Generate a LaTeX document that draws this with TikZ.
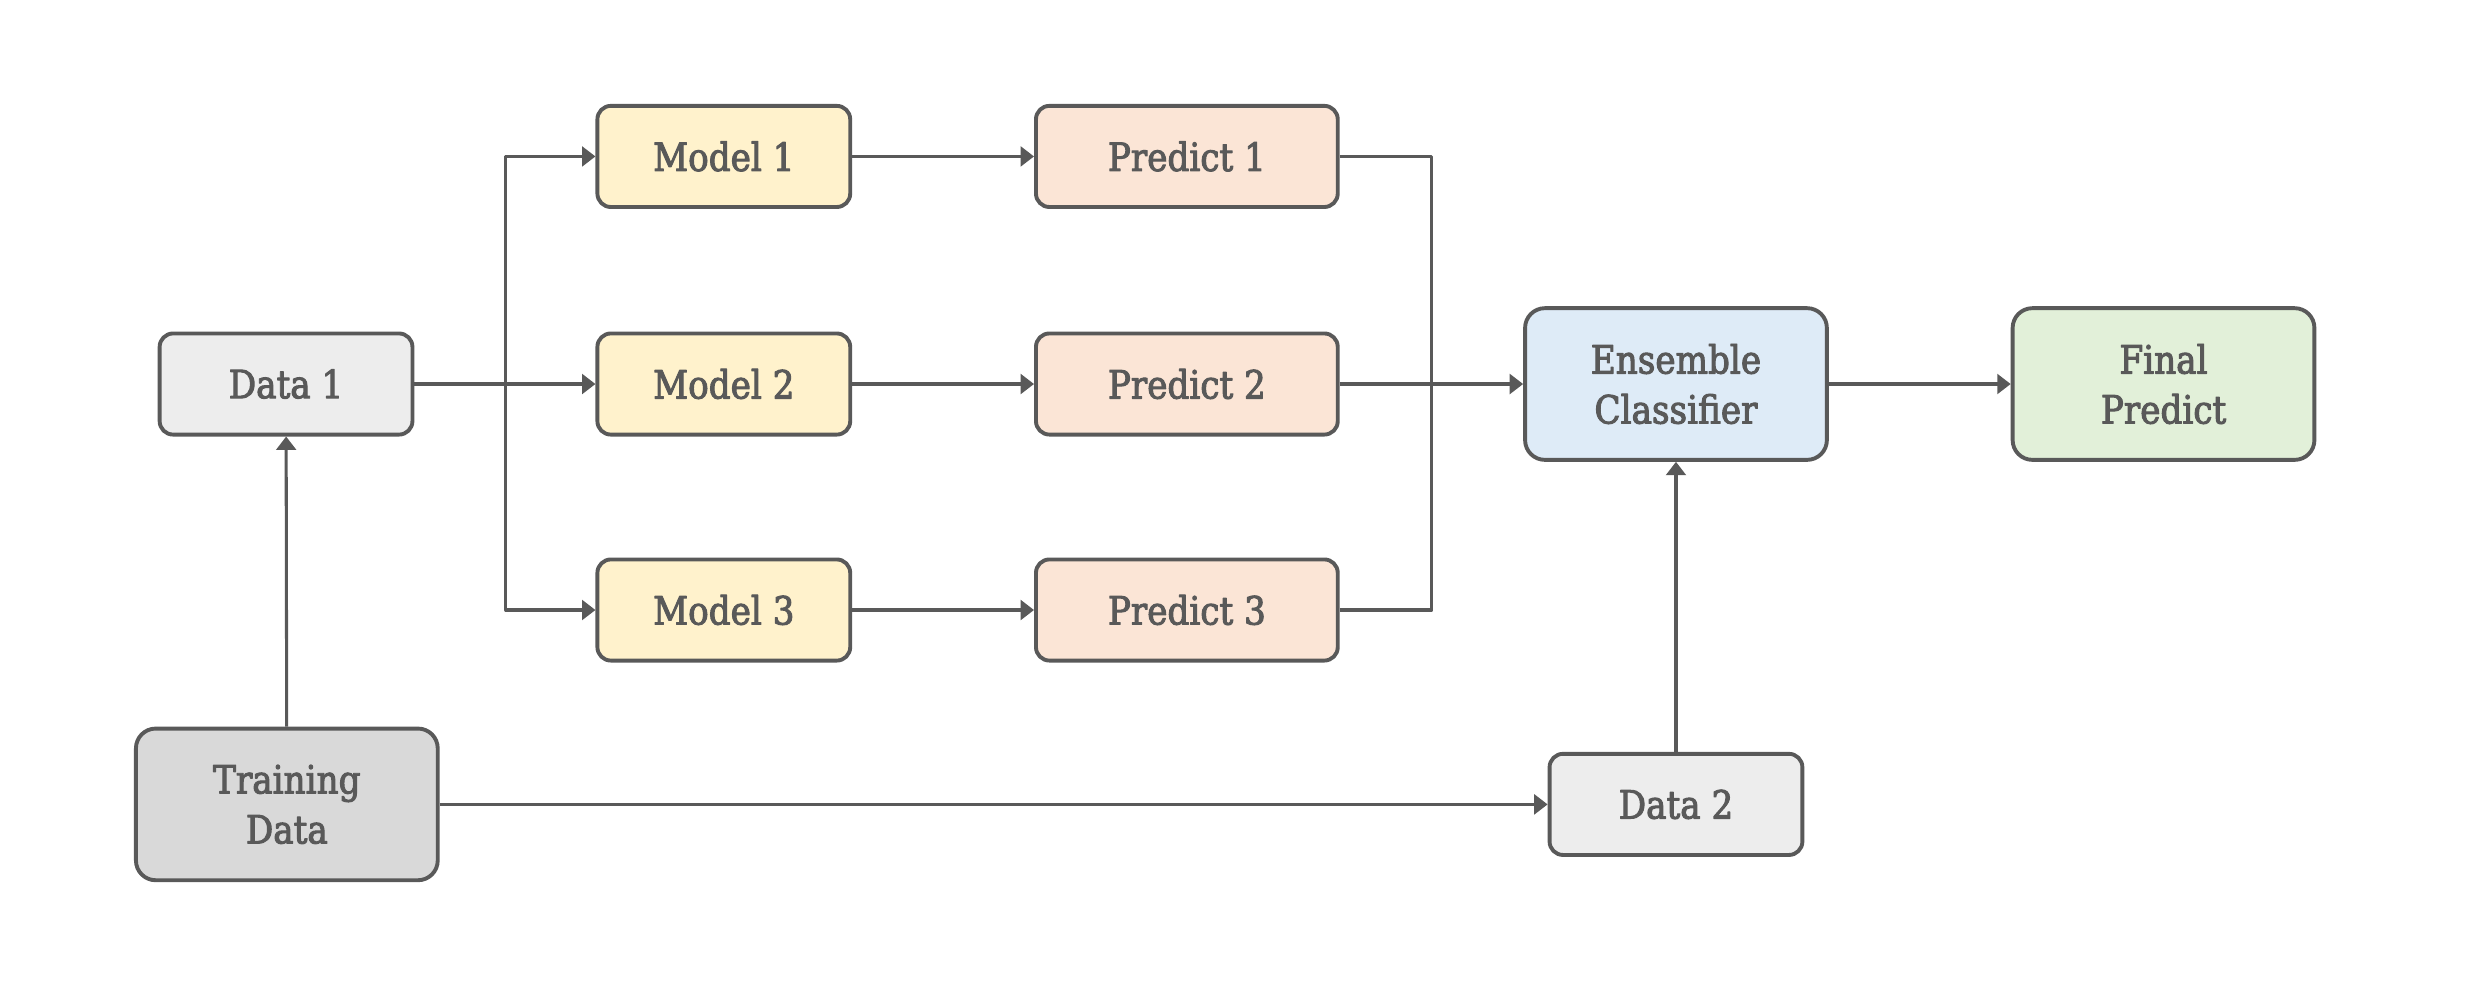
\documentclass[tikz,border=0pt]{standalone}
\usepackage{fontspec}
\setmainfont{DejaVu Serif}[FakeStretch=0.88,FakeBold=2.5]
\usepackage{tikz}
\usetikzlibrary{arrows.meta}

\definecolor{lineg}{HTML}{595959}
\definecolor{datag}{HTML}{EDEDED}
\definecolor{traing}{HTML}{D9D9D9}
\definecolor{modely}{HTML}{FFF2CC}
\definecolor{predo}{HTML}{FBE5D6}
\definecolor{ensb}{HTML}{DEEBF7}
\definecolor{finalg}{HTML}{E2F0D9}

\begin{document}
\begin{tikzpicture}[line cap=round,line join=round,x=0.02cm,y=-0.02cm,
  >={Triangle[length=0.17cm,width=0.25cm]},
  box/.style={draw=lineg,line width=1.4pt,rounded corners=0.17cm,text=lineg,
    font=\fontsize{14}{18}\selectfont,minimum width=3.2cm,minimum height=1.28cm,inner sep=0pt},
  bigbox/.style={box,rounded corners=0.25cm,minimum width=3.82cm,minimum height=1.92cm,align=center},
  conn/.style={draw=lineg,line width=1.1pt,line cap=butt}]
\useasboundingbox (0,0) rectangle (1568,624);
%\draw[help lines] (0,0) grid[step=100] (1568,624);

% boxes
\node[box,fill=datag] (data1) at (181,243) {Data 1};
\node[box,fill=modely] (model1) at (458,99) {Model 1};
\node[box,fill=modely] (model2) at (458,243) {Model 2};
\node[box,fill=modely] (model3) at (458,386) {Model 3};
\node[box,fill=predo,minimum width=3.82cm] (pred1) at (751,99) {Predict 1};
\node[box,fill=predo,minimum width=3.82cm] (pred2) at (751,243) {Predict 2};
\node[box,fill=predo,minimum width=3.82cm] (pred3) at (751,386) {Predict 3};
\node[bigbox,fill=ensb] (ens) at (1060.5,243) {Ensemble\\Classifier};
\node[bigbox,fill=finalg] (final) at (1369,243) {Final\\Predict};
\node[bigbox,fill=traing] (train) at (181.5,509) {Training\\Data};
\node[box,fill=datag] (data2) at (1060.5,509) {Data 2};

% split and merge points
\coordinate (split) at (320,243);
\coordinate (merge) at (906,243);

% connectors
\draw[conn,->] (data1) -- (model2);
\draw[conn,->] (split) |- (model1);
\draw[conn,->] (split) |- (model3);
\draw[conn,->] (model1) -- (pred1);
\draw[conn,->] (model2) -- (pred2);
\draw[conn,->] (model3) -- (pred3);
\draw[conn] (pred1) -| (merge);
\draw[conn] (pred3) -| (merge);
\draw[conn,->] (pred2) -- (ens);
\draw[conn,->] (ens) -- (final);
\draw[conn,->] (train) -- (data1);
\draw[conn,->] (train) -- (data2);
\draw[conn,->] (data2) -- (ens);
\end{tikzpicture}
\end{document}
